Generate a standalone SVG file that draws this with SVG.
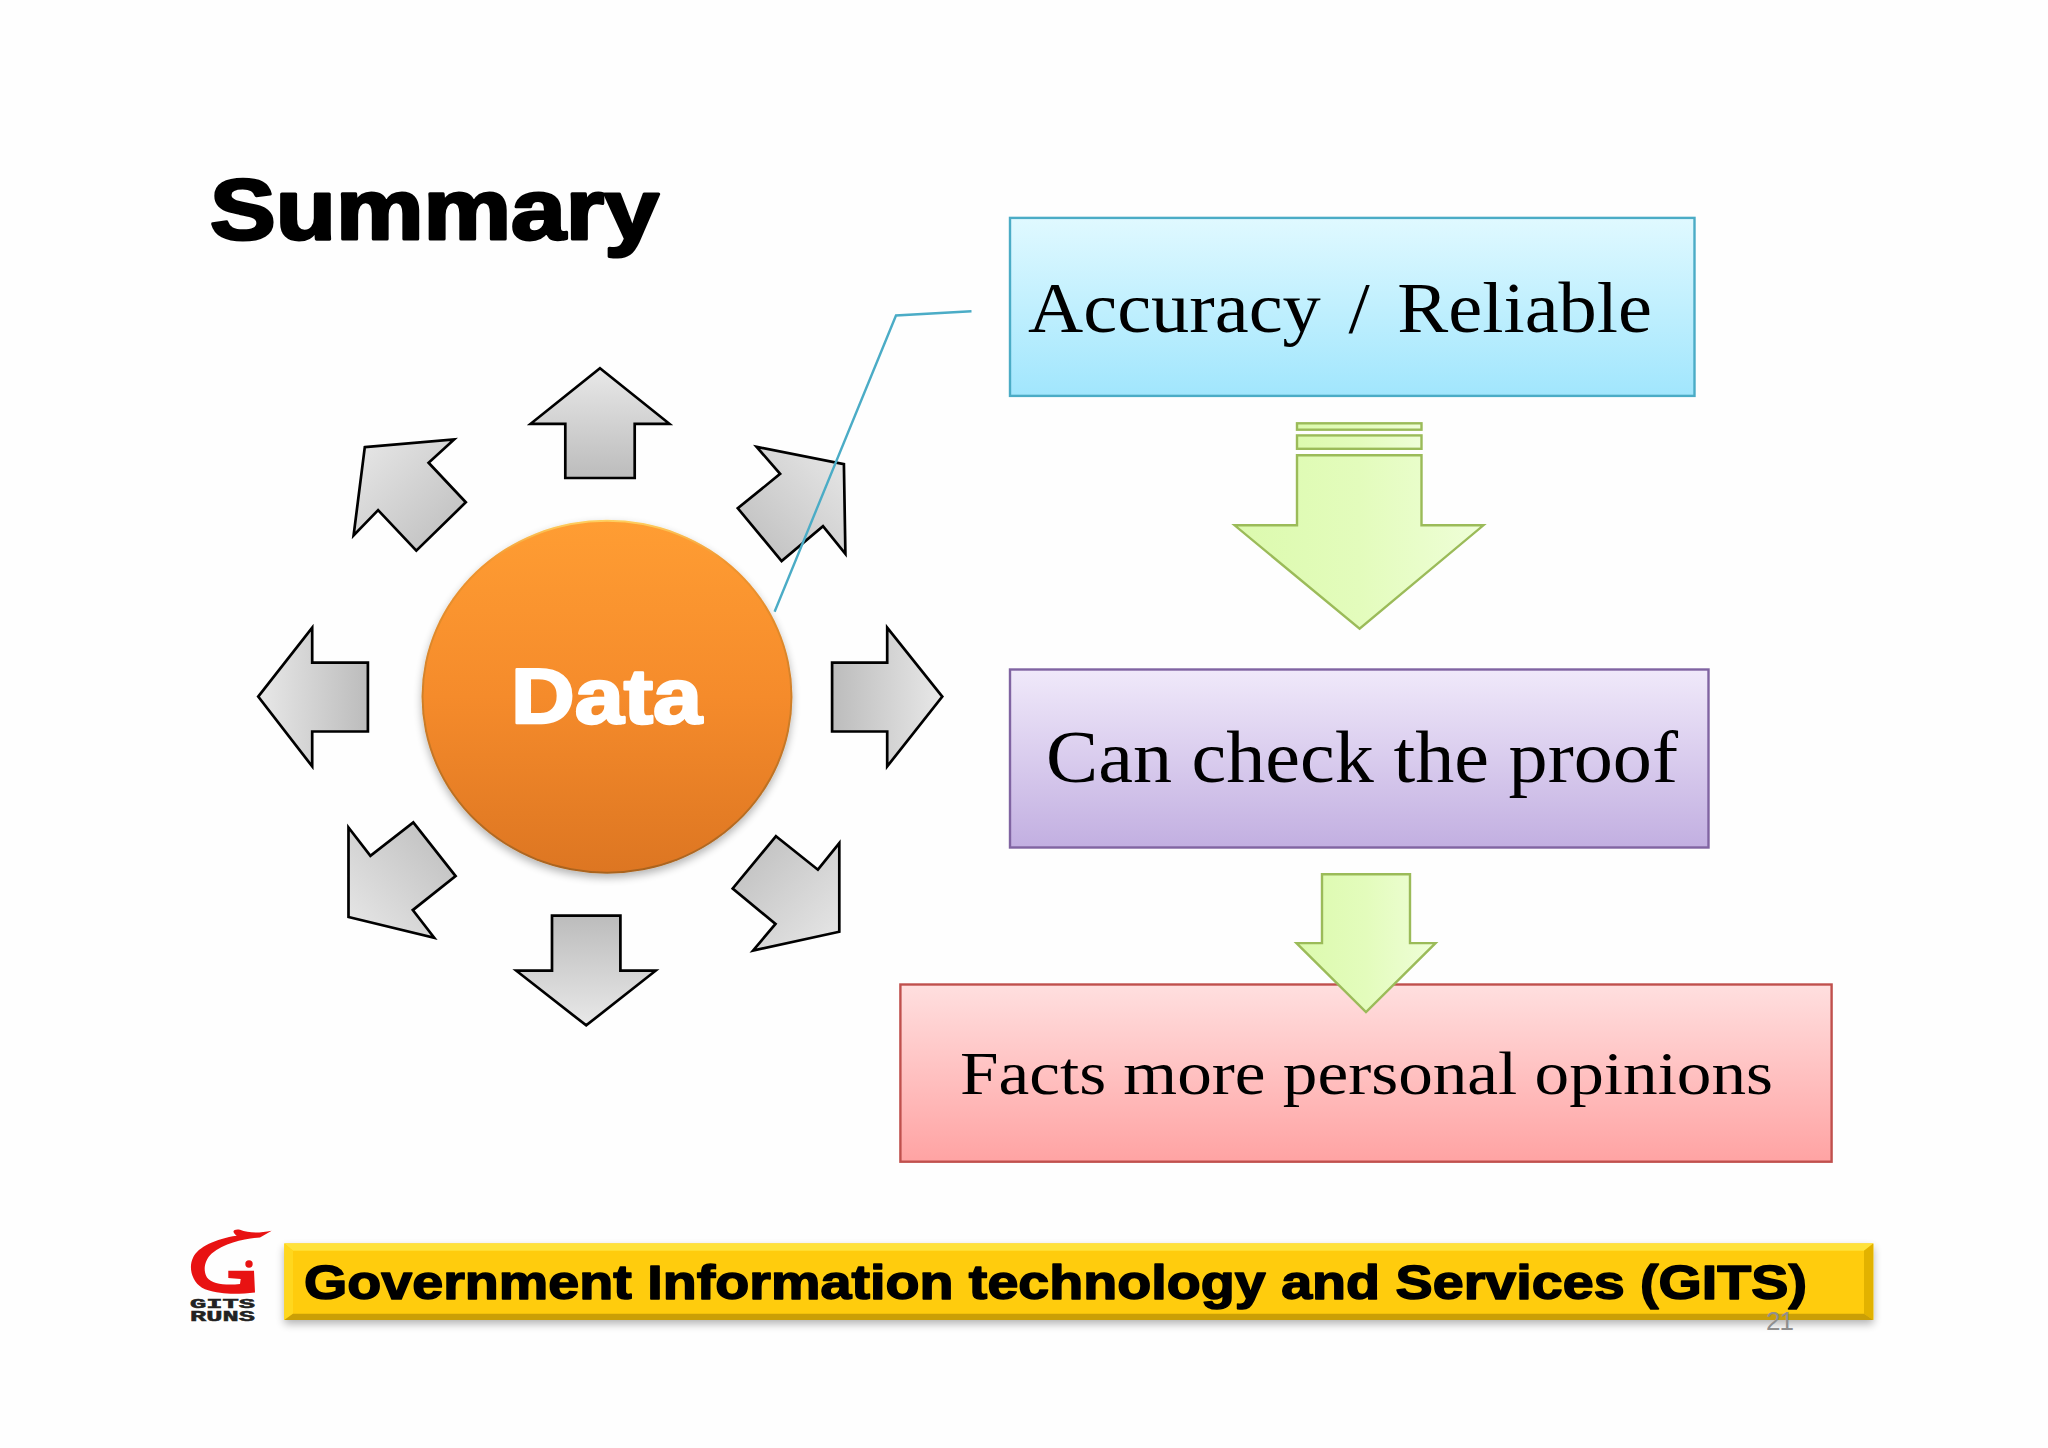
<svg xmlns="http://www.w3.org/2000/svg" width="2048" height="1448" viewBox="0 0 2048 1448">
<style>
.ga{stroke:#000;stroke-width:2.7;stroke-linejoin:miter}
.gr{stroke:#9bbb59;stroke-width:2.4;fill:url(#green)}
.serif{font-family:"Liberation Serif","Times New Roman",serif;fill:#000}
.heavy{font-family:"Liberation Sans",Arial,sans-serif;font-weight:700;stroke-linejoin:round}
.box{stroke-width:2.4}
.lg{font-family:"Liberation Mono",monospace;font-weight:700;fill:#222;stroke:#222;stroke-width:.5}
</style>
<defs>
<linearGradient id="gU" x1="0" y1="0" x2="0" y2="1"><stop offset="0" stop-color="#e8e8e8"/><stop offset="1" stop-color="#bcbcbc"/></linearGradient>
<linearGradient id="gD" x1="0" y1="0" x2="0" y2="1"><stop offset="0" stop-color="#bcbcbc"/><stop offset="1" stop-color="#e8e8e8"/></linearGradient>
<linearGradient id="gL" x1="0" y1="0" x2="1" y2="0"><stop offset="0" stop-color="#e8e8e8"/><stop offset="1" stop-color="#bcbcbc"/></linearGradient>
<linearGradient id="gR" x1="0" y1="0" x2="1" y2="0"><stop offset="0" stop-color="#bcbcbc"/><stop offset="1" stop-color="#e8e8e8"/></linearGradient>
<linearGradient id="gUR" x1="0" y1="1" x2="1" y2="0"><stop offset="0" stop-color="#bcbcbc"/><stop offset="1" stop-color="#e8e8e8"/></linearGradient>
<linearGradient id="gUL" x1="0" y1="0" x2="1" y2="1"><stop offset="0" stop-color="#e8e8e8"/><stop offset="1" stop-color="#bcbcbc"/></linearGradient>
<linearGradient id="gLL" x1="0" y1="1" x2="1" y2="0"><stop offset="0" stop-color="#e8e8e8"/><stop offset="1" stop-color="#bcbcbc"/></linearGradient>
<linearGradient id="gLR" x1="0" y1="0" x2="1" y2="1"><stop offset="0" stop-color="#bcbcbc"/><stop offset="1" stop-color="#e8e8e8"/></linearGradient>
<linearGradient id="orange" x1="0" y1="0" x2="0" y2="1"><stop offset="0" stop-color="#ff9d33"/><stop offset=".5" stop-color="#f58b2b"/><stop offset="1" stop-color="#dd7622"/></linearGradient>
<linearGradient id="rim" x1="0" y1="0" x2="0" y2="1"><stop offset="0" stop-color="#ffd060"/><stop offset=".12" stop-color="#f0952f"/><stop offset="1" stop-color="#a9631f"/></linearGradient>
<linearGradient id="blue" x1="0" y1="0" x2="0" y2="1"><stop offset="0" stop-color="#e0f9ff"/><stop offset="1" stop-color="#a1e6fd"/></linearGradient>
<linearGradient id="purple" x1="0" y1="0" x2="0" y2="1"><stop offset="0" stop-color="#f0e9fa"/><stop offset="1" stop-color="#c2afe1"/></linearGradient>
<linearGradient id="red" x1="0" y1="0" x2="0" y2="1"><stop offset="0" stop-color="#ffdfdf"/><stop offset="1" stop-color="#ffa3a3"/></linearGradient>
<linearGradient id="green" x1="0" y1="0" x2="1" y2="0"><stop offset="0" stop-color="#dcfaae"/><stop offset=".5" stop-color="#e3fcbc"/><stop offset="1" stop-color="#effed8"/></linearGradient>
<filter id="soft" x="-10%" y="-10%" width="120%" height="130%"><feGaussianBlur in="SourceAlpha" stdDeviation="4"/><feOffset dy="4"/><feComponentTransfer><feFuncA type="linear" slope=".3"/></feComponentTransfer><feMerge><feMergeNode/><feMergeNode in="SourceGraphic"/></feMerge></filter>
</defs>
<rect width="2048" height="1448" fill="#fefefe"/>
<g transform="translate(0,.7)">
<g id="title"><text class="heavy" x="210" y="238.5" font-size="86" stroke="#000" stroke-width="3" textLength="449" lengthAdjust="spacingAndGlyphs">Summary</text></g>

<g id="arrow-up"><polygon class="ga" fill="url(#gU)" points="600,367.6 669.4,423.1 634.7,423.1 634.7,477.3 565.3,477.3 565.3,423.1 530.6,423.1"/></g>
<g id="arrow-up-right"><polygon class="ga" fill="url(#gUR)" points="756.6,446.1 843.9,463.5 845.4,553.1 823,525.5 781.6,560.4 737.8,507.6 780.1,473.2"/></g>
<g id="arrow-up-left"><polygon class="ga" fill="url(#gUL)" points="364.8,446.5 454.1,438.7 428.6,462.1 465.8,501.6 416.3,549.9 378.1,509.4 353.6,534.7"/></g>
<g id="arrow-left"><polygon class="ga" fill="url(#gL)" points="258.2,695.9 312.2,627 312.2,661.9 367.9,661.9 367.9,730.8 312.2,730.8 312.2,765.7"/></g>
<g id="arrow-right"><polygon class="ga" fill="url(#gR)" points="942.3,695.9 887.2,627 887.2,661.9 832.1,661.9 832.1,730.8 887.2,730.8 887.2,765.7"/></g>
<g id="arrow-down-left"><polygon class="ga" fill="url(#gLL)" points="348.5,826.8 370.4,855.2 413.3,821.7 455.6,875.4 412.8,909.4 434.2,937 348.5,916.3"/></g>
<g id="arrow-down-right"><polygon class="ga" fill="url(#gLR)" points="776,835.5 817.9,869 839.3,842.4 839.3,931 753.1,949.8 775.5,923.2 732.7,887.8"/></g>
<g id="arrow-down"><polygon class="ga" fill="url(#gD)" points="552,914.9 620.4,914.9 620.4,970 655.6,970 586.2,1024.7 516.3,970 552,970"/></g>

<g id="data-node">
<ellipse cx="607" cy="696" rx="185.5" ry="177" fill="url(#rim)" filter="url(#soft)"/>
<ellipse cx="607" cy="696" rx="183.5" ry="175" fill="url(#orange)"/>
<text class="heavy" x="511" y="722" font-size="77" fill="#fff" stroke="#fff" stroke-width="2.5" textLength="191" lengthAdjust="spacingAndGlyphs">Data</text>
</g>

<g id="connectors"><polyline points="774.6,611 896,314.8 971.5,310.5" fill="none" stroke="#4bacc6" stroke-width="2.4"/></g>

<g id="box-accuracy">
<rect class="box" x="1010" y="217.2" width="684.5" height="178" fill="url(#blue)" stroke="#4bacc6"/>
<text class="serif" x="1028" y="331" font-size="72" word-spacing="8" textLength="624" lengthAdjust="spacingAndGlyphs">Accuracy / Reliable</text>
</g>
<g id="arrow-green-1">
<rect class="gr" x="1297" y="422.6" width="124.5" height="6.4"/>
<rect class="gr" x="1297" y="434.7" width="124.5" height="13.4"/>
<polygon class="gr" points="1297,454.5 1421.5,454.5 1421.5,524.6 1483.4,524.6 1359.6,628 1234.6,524.6 1297,524.6"/>
</g>
<g id="box-proof">
<rect class="box" x="1010" y="668.8" width="698.5" height="178" fill="url(#purple)" stroke="#8064a2"/>
<text class="serif" x="1046" y="781.5" font-size="73" textLength="632" lengthAdjust="spacingAndGlyphs">Can check the proof</text>
</g>
<g id="box-facts">
<rect class="box" x="900.4" y="983.8" width="931.2" height="177.2" fill="url(#red)" stroke="#c0504d"/>
<text class="serif" x="960" y="1093.5" font-size="62" textLength="813" lengthAdjust="spacingAndGlyphs">Facts more personal opinions</text>
</g>
<g id="arrow-green-2"><polygon class="gr" points="1322,873.5 1410,873.5 1410,942.4 1435.5,942.4 1366,1011.3 1296.5,942.4 1322,942.4"/></g>

<g id="logo">
<path d="M271.7,1230C257,1233 248,1232 240,1229C235,1228 230,1230 236.7,1235C216,1238 198,1246 193,1257C188,1267 192,1283 205,1288.5C225,1295 240,1293 255,1291.7L254,1270L228.3,1270L228.3,1277.3L240.7,1278.3L240,1283.3C225,1285 212,1283 207,1276.7C203,1270 204,1260 211.7,1252.7C225,1242 245,1238 260,1236.7Z" fill="#e81212"/>
<circle cx="249" cy="1263.3" r="3.7" fill="#e81212"/>
<text class="lg" x="190" y="1307" font-size="12.5" textLength="65" lengthAdjust="spacingAndGlyphs">GITS</text>
<text class="lg" x="190" y="1320.5" font-size="15.5" textLength="65" lengthAdjust="spacingAndGlyphs">RUNS</text>
</g>

<g id="footer-bar">
<rect x="284.3" y="1242.7" width="1589" height="76.5" fill="#ffcc08" filter="url(#soft)"/>
<polygon points="284.3,1242.7 1873.3,1242.7 1864,1250 293,1250" fill="#ffe23a"/>
<polygon points="284.3,1242.7 293,1250 293,1313 284.3,1319.2" fill="#ffd71e"/>
<polygon points="1873.3,1242.7 1864,1250 1864,1313 1873.3,1319.2" fill="#e2b200"/>
<polygon points="284.3,1319.2 293,1313 1864,1313 1873.3,1319.2" fill="#ca9f06"/>
<text class="heavy" x="304" y="1298" font-size="48" fill="#000" stroke="#000" stroke-width="1.5" textLength="1503" lengthAdjust="spacingAndGlyphs">Government Information technology and Services (GITS)</text>
</g>
<text id="page-number" x="1766" y="1329" font-family="'Liberation Sans',Arial,sans-serif" font-size="26" fill="#8f8f8f" textLength="28">21</text>
</g>
</svg>
